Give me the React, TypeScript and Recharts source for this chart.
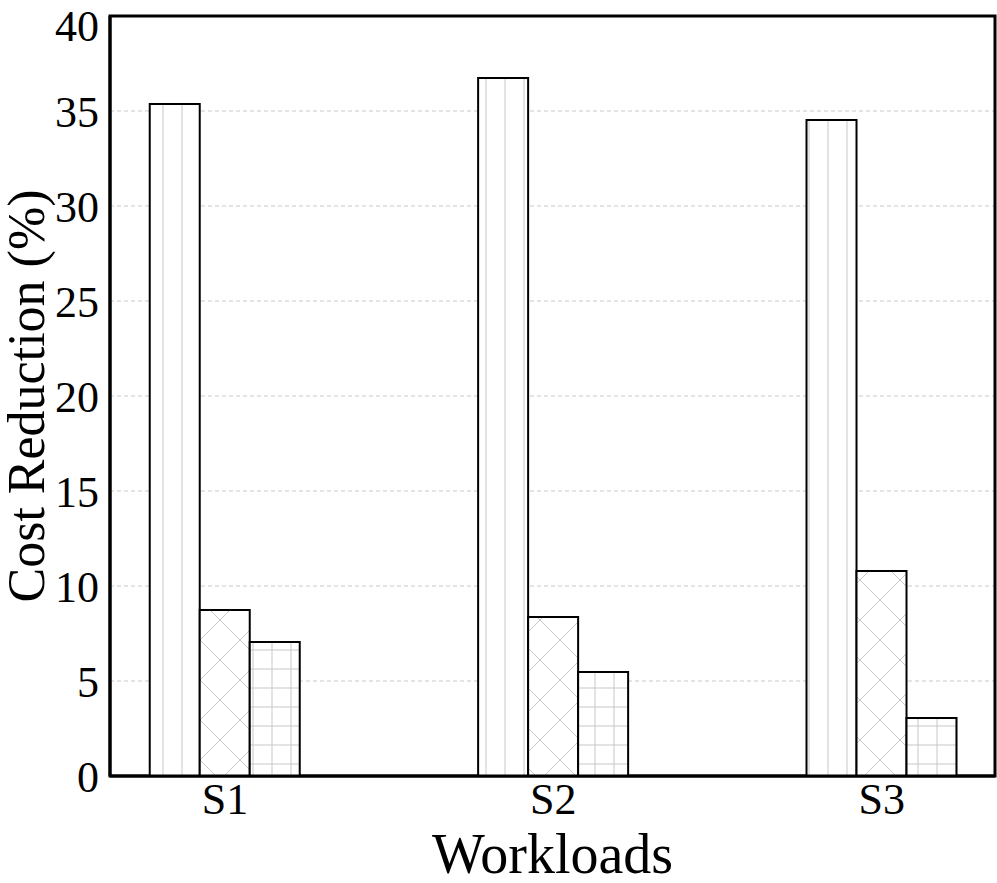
import { Bar, BarChart, CartesianGrid, ReferenceArea, XAxis, YAxis } from "recharts";

const categories = ["S1", "S2", "S3"];
const firstSeries = [35.37, 36.74, 34.53];
const secondSeries = [8.74, 8.37, 10.79];
const thirdSeries = [7.05, 5.47, 3.05];
const yTicks = [0, 5, 10, 15, 20, 25, 30, 35, 40];

const data = categories.map((name, i) => ({
  x: i,
  name,
  a: firstSeries[i],
  b: secondSeries[i],
  c: thirdSeries[i],
}));

const FONT = '"Liberation Serif", "Times New Roman", serif';
const HATCH = "#c8c8c8";

const App = () => {
  return (
    <div style={{ position: "absolute", left: 0, top: 0, background: "#fff" }}>
      <BarChart
        width={997}
        height={883}
        data={data}
        margin={{ top: 16, right: 2, bottom: 0, left: 0 }}
        barSize={50}
        barGap={0}
      >
        <defs>
          <pattern id="vert" patternUnits="userSpaceOnUse" width="19" height="19">
            <rect width="19" height="19" fill="#fff" />
            <line x1="11" y1="0" x2="11" y2="19" stroke={HATCH} strokeWidth="1" />
          </pattern>
          <pattern id="cross" patternUnits="userSpaceOnUse" width="40" height="40">
            <rect width="40" height="40" fill="#fff" />
            <line x1="0" y1="0" x2="40" y2="40" stroke={HATCH} strokeWidth="1" />
            <line x1="40" y1="0" x2="0" y2="40" stroke={HATCH} strokeWidth="1" />
          </pattern>
          <pattern id="grid" patternUnits="userSpaceOnUse" width="19" height="19">
            <rect width="19" height="19" fill="#fff" />
            <line x1="6" y1="0" x2="6" y2="19" stroke={HATCH} strokeWidth="1" />
            <line x1="0" y1="4" x2="19" y2="4" stroke={HATCH} strokeWidth="1" />
          </pattern>
        </defs>
        <CartesianGrid vertical={false} stroke="#bbb" strokeDasharray="4 3" strokeWidth={0.8} />
        <XAxis
          dataKey="x"
          type="number"
          domain={[-0.35, 2.345]}
          ticks={[0, 1, 2]}
          tickFormatter={(v: number) => categories[v]}
          axisLine={{ stroke: "#000", strokeWidth: 3 }}
          tickLine={false}
          tick={{ fill: "#000", fontSize: 44, fontFamily: FONT }}
          tickMargin={1}
          height={107}
          label={{
            value: "Workloads",
            position: "insideBottom",
            offset: 10,
            fill: "#000",
            fontSize: 56,
            fontFamily: FONT,
          }}
        />
        <YAxis
          domain={[0, 40]}
          ticks={yTicks}
          axisLine={{ stroke: "#000", strokeWidth: 3 }}
          tickLine={false}
          tick={{ fill: "#000", fontSize: 44, fontFamily: FONT }}
          tickMargin={5}
          width={110}
          label={{
            value: "Cost Reduction (%)",
            angle: -90,
            position: "insideLeft",
            offset: 26,
            style: { textAnchor: "middle" },
            fill: "#000",
            fontSize: 52,
            fontFamily: FONT,
          }}
        />
        <Bar dataKey="a" fill="url(#vert)" stroke="#000" strokeWidth={2} isAnimationActive={false} />
        <Bar dataKey="b" fill="url(#cross)" stroke="#000" strokeWidth={2} isAnimationActive={false} />
        <Bar dataKey="c" fill="url(#grid)" stroke="#000" strokeWidth={2} isAnimationActive={false} />
        <ReferenceArea
          x1={-0.35}
          x2={2.345}
          y1={0}
          y2={40}
          fill="none"
          stroke="#000"
          strokeWidth={3}
          fillOpacity={0}
        />
      </BarChart>
    </div>
  );
};

export default App;
